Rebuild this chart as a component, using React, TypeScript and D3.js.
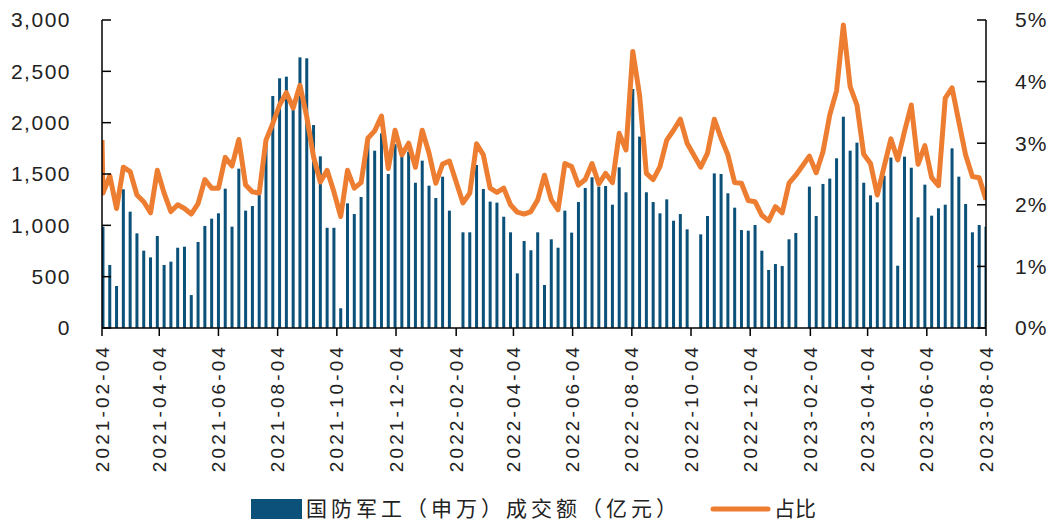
import React from "react";
import * as d3 from "d3";

// weekly turnover of the defence sector (亿元), one entry per Friday from 2021-02-05; null = market closed all week
const turnover = [
  987, 614, 409, 1351, 1133, 922, 753, 688, 896, 614,
  646, 782, 792, 321, 838, 994, 1065, 1117, 1357, 987,
  1552, 1143, 1188, 1300, 1800, 2260, 2432, 2448, 2150, 2636,
  2627, 1977, 1672, 976, 976, 192, 1214, 1110, 1276, 1800,
  1727, 1896, 1500, 1790, 1669, 1718, 1415, 1630, 1386, 1266,
  1474, 1143, null, 932, 932, 1588, 1354, 1231, 1221, 1084,
  932, 532, 847, 757, 932, 419, 864, 782, 1143, 929,
  1227, 1364, 1468, 1377, 1383, 1201, 1565, 1322, 2328, 1864,
  1322, 1227, 1117, 1253, 1045, 1110, 961, null, 912, 1091,
  1506, 1500, 1312, 1172, 954, 948, 1003, 753, 565, 623,
  604, 864, 925, null, 1377, 1091, 1403, 1455, 1653, 2058,
  1727, 1805, 1415, 1292, 1224, 1483, 1660, 607, 1669, 1561,
  1078, 1396, 1094, 1166, 1201, 1750, 1474, 1208, 932, 1003,
  987,
];

// share of whole-market turnover (%)
const share = [
  2.19, 2.47, 1.94, 2.61, 2.54, 2.16, 2.05, 1.87, 2.56, 2.19,
  1.89, 2.0, 1.94, 1.85, 2.02, 2.41, 2.27, 2.27, 2.77, 2.63,
  3.06, 2.32, 2.21, 2.19, 3.05, 3.32, 3.62, 3.82, 3.57, 3.94,
  3.43, 2.78, 2.37, 2.56, 2.21, 1.81, 2.56, 2.27, 2.36, 3.08,
  3.2, 3.44, 2.59, 3.21, 2.81, 3.0, 2.61, 3.21, 2.84, 2.35,
  2.66, 2.71, null, 2.03, 2.19, 2.99, 2.81, 2.27, 2.2, 2.27,
  2.0, 1.88, 1.85, 1.89, 2.08, 2.48, 2.08, 1.92, 2.67, 2.62,
  2.32, 2.41, 2.67, 2.34, 2.51, 2.36, 3.16, 2.89, 4.49, 3.78,
  2.51, 2.41, 2.62, 3.05, 3.21, 3.39, 3.0, null, 2.61, 2.84,
  3.39, 3.08, 2.81, 2.36, 2.35, 2.07, 2.05, 1.83, 1.74, 1.97,
  1.87, 2.35, 2.48, null, 2.79, 2.52, 2.86, 3.46, 3.85, 4.92,
  3.92, 3.62, 2.82, 2.67, 2.16, 2.62, 3.07, 2.73, 3.19, 3.62,
  2.66, 2.96, 2.44, 2.31, 3.73, 3.9, 3.35, 2.81, 2.46, 2.44,
  2.08,
];

// the line opens one day before the first weekly point
const firstDay = "2021-02-04";
const firstShare = 3.05;

const tickLabels = [
  "2021-02-04", "2021-04-04", "2021-06-04", "2021-08-04", "2021-10-04", "2021-12-04",
  "2022-02-04", "2022-04-04", "2022-06-04", "2022-08-04", "2022-10-04", "2022-12-04",
  "2023-02-04", "2023-04-04", "2023-06-04", "2023-08-04",
];

const leftTicks = [0, 500, 1000, 1500, 2000, 2500, 3000];
const rightTicks = [0, 1, 2, 3, 4, 5];

const W = 1061;
const H = 522;
const left = 102;
const right = 986;
const top = 20;
const bottom = 328;
const BLUE = "#0B5179";
const ORANGE = "#ED7D31";
const NUM_FONT = "'Liberation Sans', Arial, sans-serif";
const CJK_FONT = "'Noto Sans CJK SC', 'Noto Sans', sans-serif";

const parse = d3.timeParse("%Y-%m-%d");

const App = () => {
  const weeks = d3.timeFriday.range(parse("2021-02-05")!, d3.timeDay.offset(parse("2023-08-04")!, 1));
  const rows = weeks
    .map((d, i) => ({ date: d, value: turnover[i], pct: share[i] }))
    .filter((r) => r.value != null);

  const x = d3.scaleTime()
    .domain([parse(tickLabels[0])!, parse(tickLabels[tickLabels.length - 1])!])
    .range([left, right]);
  const yL = d3.scaleLinear().domain([0, 3000]).range([bottom, top]);
  const yR = d3.scaleLinear().domain([0, 5]).range([bottom, top]);

  const linePts = [{ date: parse(firstDay)!, pct: firstShare }, ...rows.map((r) => ({ date: r.date, pct: r.pct as number }))];
  const line = d3.line<{ date: Date; pct: number }>()
    .x((d) => x(d.date))
    .y((d) => yR(d.pct));

  const fmt = d3.format(",");
  const barW = 3;

  return (
    <svg width={W} height={H} style={{ position: "absolute", left: 0, top: 0, background: "#fff" }}>
      <defs>
        <clipPath id="plot">
          <rect x={left} y={0} width={right - left} height={bottom} />
        </clipPath>
      </defs>

      {/* bars */}
      <g clipPath="url(#plot)">
        {rows.map((r, i) => (
          <rect key={i} x={x(r.date) - barW / 2} y={yL(r.value as number)} width={barW}
            height={bottom - yL(r.value as number)} fill={BLUE} />
        ))}
      </g>

      {/* share line */}
      <path d={line(linePts) ?? ""} fill="none" stroke={ORANGE} strokeWidth={5}
        strokeLinejoin="round" clipPath="url(#plot)" />

      {/* left axis */}
      <line x1={left} x2={left} y1={top} y2={bottom} stroke="#000" strokeWidth={1.5} />
      {leftTicks.map((t) => (
        <g key={t}>
          <line x1={left} x2={left + 9} y1={yL(t)} y2={yL(t)} stroke="#000" strokeWidth={1.5} />
          <text x={left - 31} y={yL(t)} dy="0.35em" textAnchor="end" fontSize={21} letterSpacing={1.5}
            fontFamily={NUM_FONT} fill="#222">
            {fmt(t)}
          </text>
        </g>
      ))}

      {/* right axis */}
      <line x1={right} x2={right} y1={top} y2={bottom} stroke="#000" strokeWidth={1.5} />
      {rightTicks.map((t) => (
        <g key={t}>
          <line x1={right - 9} x2={right} y1={yR(t)} y2={yR(t)} stroke="#000" strokeWidth={1.5} />
          <text x={right + 29} y={yR(t)} dy="0.35em" textAnchor="start" fontSize={21} letterSpacing={1}
            fontFamily={NUM_FONT} fill="#222">
            {t}%
          </text>
        </g>
      ))}

      {/* bottom axis */}
      <line x1={left} x2={right} y1={bottom} y2={bottom} stroke="#000" strokeWidth={1.5} />
      {tickLabels.map((t) => {
        const px = x(parse(t)!);
        return (
          <g key={t}>
            <line x1={px} x2={px} y1={bottom} y2={bottom + 8} stroke="#000" strokeWidth={1.5} />
            <text transform={`translate(${px},${bottom + 16}) rotate(-90)`} dy="0.35em" textAnchor="end"
              fontSize={19} letterSpacing={3.1} fontFamily={NUM_FONT} fill="#222">
              {t}
            </text>
          </g>
        );
      })}

      {/* legend */}
      <rect x={251} y={499} width={51} height={20} fill={BLUE} />
      <text x={306} y={509} dy="0.35em" fontSize={21} letterSpacing={4} fontFamily={CJK_FONT} fill="#222">
        国防军工（申万）成交额（亿元）
      </text>
      <line x1={713} x2={768} y1={509} y2={509} stroke={ORANGE} strokeWidth={5} strokeLinecap="round" />
      <text x={774} y={509} dy="0.35em" fontSize={21} fontFamily={CJK_FONT} fill="#222">占比</text>
    </svg>
  );
};

export default App;
